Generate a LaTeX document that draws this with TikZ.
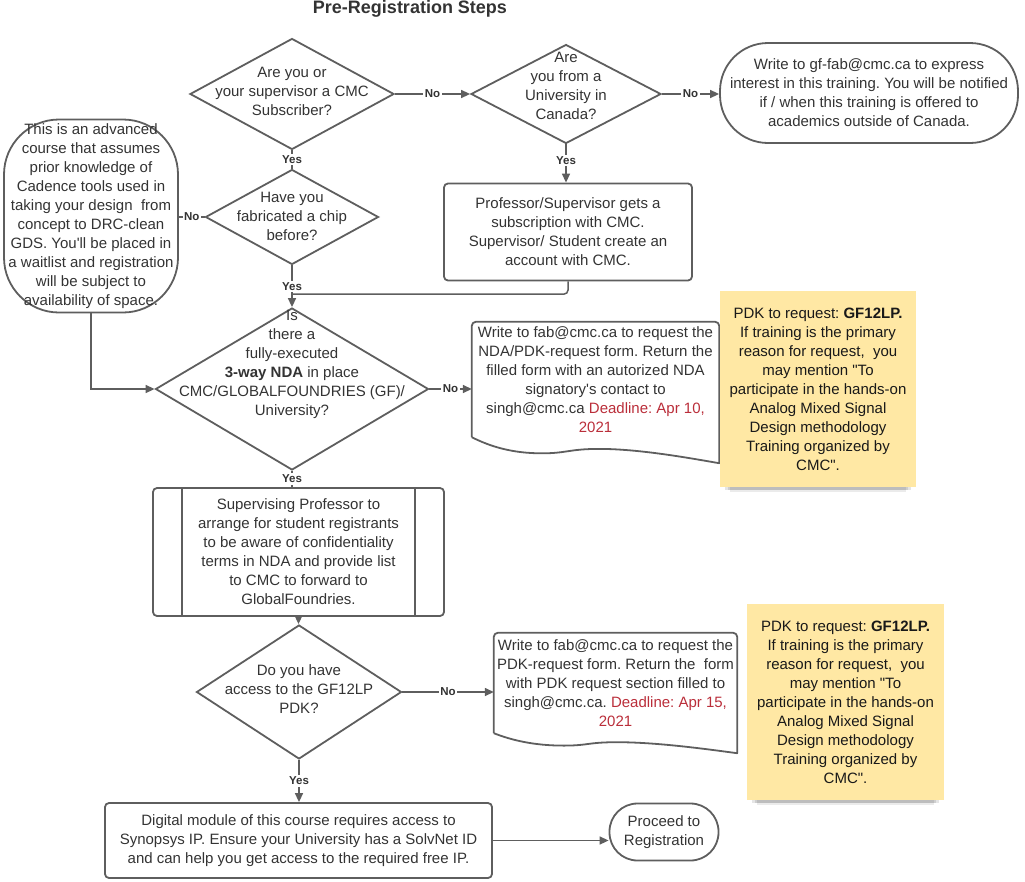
\documentclass[tikz,border=0pt]{standalone}
\usepackage{fontspec}
\setmainfont{Liberation Sans}[Ligatures=TeXOff]
\usetikzlibrary{arrows.meta,shapes.geometric,shadows}
\frenchspacing

\definecolor{linegray}{HTML}{5E5E5E}
\definecolor{textgray}{HTML}{333333}
\definecolor{stickyfill}{HTML}{FFE8A4}
\definecolor{deadred}{HTML}{BA2E3A}

% outline of a document shape around a text node, #2 = drop of the right end
\newcommand{\wavydoc}[2]{%
  \draw[shapeline, line join=round] (#1.south west) [rounded corners=4pt] -- (#1.north west)
    -- (#1.north east) [sharp corners] -- ([yshift=-#2]#1.south east)
    .. controls ([xshift=-30,yshift={-0.8*#2}]#1.south east) and ([xshift=-80,yshift={-0.45*#2}]#1.south east)
    .. ([xshift=-120,yshift={-0.45*#2}]#1.south east)
    .. controls ([xshift=-150,yshift={-0.45*#2}]#1.south east) and ([xshift=95,yshift={-0.62*#2}]#1.south west)
    .. ([xshift=70,yshift={-0.62*#2}]#1.south west)
    .. controls ([xshift=40,yshift={-0.62*#2}]#1.south west) and ([xshift=18,yshift={-0.35*#2}]#1.south west)
    .. (#1.south west);
}

\begin{document}
\begin{tikzpicture}[x=1pt, y=-1pt,
    shapeline/.style={draw=linegray, line width=1.8pt},
    txt/.style={align=center, text=textgray, font=\fontsize{15}{19}\selectfont, inner sep=0pt},
    decision/.style={shapeline, diamond, inner sep=0pt},
    process/.style={txt, shapeline, rectangle, rounded corners=4pt},
    terminal/.style={txt, shapeline, rectangle, rounded corners=#1},
    terminal/.default=28pt,
    sticky/.style={txt, text=black!90, fill=stickyfill, minimum width=196pt, minimum height=196pt,
        drop shadow={shadow xshift=0pt, shadow yshift=-16pt, shadow scale=0.9, opacity=0.08, fill=black},
        drop shadow={shadow xshift=0pt, shadow yshift=-12pt, shadow scale=0.92, opacity=0.1, fill=black},
        drop shadow={shadow xshift=0pt, shadow yshift=-8pt, shadow scale=0.95, opacity=0.1, fill=black}},
    conn/.style={draw=linegray, line width=1.5pt},
    arr/.style={conn, -{Triangle[length=9pt, width=8pt]}},
    lbl/.style={font=\fontsize{11.5}{13}\bfseries\selectfont, text=textgray, fill=white, inner sep=1.5pt}]
    \useasboundingbox (0,0) rectangle (1025,881);

    \node[font=\fontsize{18}{22}\bfseries\selectfont, text=textgray] (title) at (410,9) {Pre-Registration Steps};

    % first row
    \node[decision, minimum width=204pt, minimum height=111pt] (D1) at (292,94) {};
    \node[txt] (D1t) at (292,91) {Are you or\\your supervisor a CMC\\Subscriber?};
    \node[decision, minimum width=190pt, minimum height=99pt] (D2) at (566,94) {};
    \node[txt] (D2t) at (566,86) {Are\\you from a\\University in\\Canada?};
    \node[terminal=48pt, minimum width=298pt, minimum height=100pt] (T1) at (869,93)
        {Write to gf-fab@cmc.ca to express\\interest in this training. You will be notified\\if / when this training is offered to\\academics outside of Canada.};

    % second row
    \node[decision, minimum width=173pt, minimum height=95pt] (D3) at (292,217) {};
    \node[txt] (D3t) at (292,216) {Have you\\fabricated a chip\\before?};
    \node[terminal=55pt, minimum width=174pt, minimum height=193pt] (L) at (91,216)
        {This is an advanced\\course that assumes\\prior knowledge of\\Cadence tools used in\\taking your design\ \ from\\concept to DRC-clean\\GDS. You'll be placed in\\a waitlist and registration\\will be subject to\\availability of space.};
    \node[process, minimum width=248pt, minimum height=97pt] (P) at (568,232)
        {Professor/Supervisor gets a\\subscription with CMC.\\Supervisor/ Student create an\\account with CMC.};

    % NDA
    \node[decision, minimum width=273pt, minimum height=162pt] (D4) at (292,389) {};
    \node[txt] (D4t) at (292,364) {Is\\there a\\fully-executed\\\textbf{3-way NDA} in place\\CMC/GLOBALFOUNDRIES (GF)/\\University?};
    \node[txt, minimum width=247pt, minimum height=115pt] (W1) at (595.5,379.5)
        {Write to fab@cmc.ca to request the\\NDA/PDK-request form. Return the\\filled form with an autorized NDA\\signatory's contact to\\singh@cmc.ca \textcolor{deadred}{Deadline: Apr 10,}\\\textcolor{deadred}{2021}};
    \wavydoc{W1}{26}
    \node[sticky] (N1) at (818,389)
        {PDK to request: \textbf{GF12LP.}\\If training is the primary\\reason for request,\ \ you\\may mention "To\\participate in the hands-on\\Analog Mixed Signal\\Design methodology\\Training organized by\\CMC".};

    \node[process, minimum width=291pt, minimum height=128pt] (S) at (298.5,552)
        {Supervising Professor to\\arrange for student registrants\\to be aware of confidentiality\\terms in NDA and provide list\\to CMC to forward to\\GlobalFoundries.};
    \draw[shapeline] ([xshift=30pt]S.north west) -- ([xshift=30pt]S.south west);
    \draw[shapeline] ([xshift=-30pt]S.north east) -- ([xshift=-30pt]S.south east);

    % PDK
    \node[decision, minimum width=205pt, minimum height=134pt] (D5) at (299,692) {};
    \node[txt] (D5t) at (299,689) {Do you have\\access to the GF12LP\\PDK?};
    \node[txt, minimum width=243pt, minimum height=100pt] (W2) at (615.5,683)
        {Write to fab@cmc.ca to request the\\PDK-request form. Return the\ \ form\\with PDK request section filled to\\singh@cmc.ca. \textcolor{deadred}{Deadline: Apr 15,}\\\textcolor{deadred}{2021}};
    \wavydoc{W2}{20}
    \node[sticky, minimum width=197pt] (N2) at (845.5,702)
        {PDK to request: \textbf{GF12LP.}\\If training is the primary\\reason for request,\ \ you\\may mention "To\\participate in the hands-on\\Analog Mixed Signal\\Design methodology\\Training organized by\\CMC".};

    % last row
    \node[process, minimum width=387pt, minimum height=75pt] (B) at (298.5,840.5)
        {Digital module of this course requires access to\\Synopsys IP. Ensure your University has a SolvNet ID\\and can help you get access to the required free IP.};
    \node[terminal, minimum width=109pt, minimum height=57pt] (T2) at (664,832) {Proceed to\\Registration};

    % connectors
    \draw[arr] (D1.east) -- node[lbl] {No} (D2.west);
    \draw[arr] (D2.east) -- node[lbl] {No} (D2.east -| T1.west);
    \draw[arr] (D2.south) -- node[lbl, pos=0.42] {Yes} (D2.south |- P.north);
    \draw[conn] (D1.south) -- node[lbl] {Yes} (D3.north);
    \draw[conn] (D3.west) -- node[lbl] {No} (D3.west -| L.east);
    \draw[arr] (D3.south) -- node[lbl] {Yes} (D4.north);
    \coordinate (join) at ([yshift=13pt]D4.north);
    \draw[conn, rounded corners=4pt] (P.south) |- (join);
    \draw[arr] (L.south) |- (D4.west);
    \draw[arr] (D4.east) -- node[lbl] {No} (D4.east -| W1.west);
    \draw[conn] (D4.south) -- node[lbl] {Yes} (D4.south |- S.north);
    \draw[arr] (S.south) -- (S.south |- D5.north);
    \draw[arr] (D5.east) -- node[lbl] {No} (D5.east -| W2.west);
    \draw[arr] (D5.south) -- node[lbl] {Yes} (D5.south |- B.north);
    \draw[arr] (B.east) -- (B.east -| T2.west);
\end{tikzpicture}
\end{document}
